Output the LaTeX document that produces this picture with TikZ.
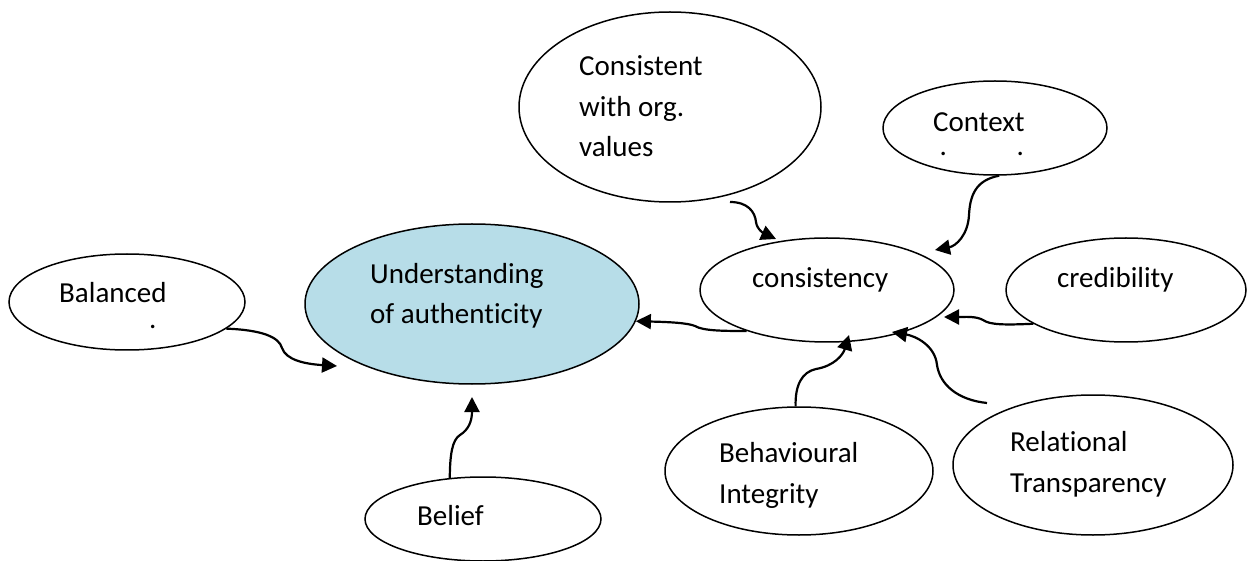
\documentclass[tikz,border=0pt]{standalone}
\usepackage{fontspec}
\setmainfont{Carlito}[Ligatures=NoCommon]
\usetikzlibrary{shapes.geometric,arrows.meta}
\definecolor{paleblue}{HTML}{B7DDE8}
\begin{document}
\begin{tikzpicture}[x=1pt,y=-1pt,>={Triangle[length=15pt,width=15pt]},
		bub/.style={ellipse,draw,line width=1.5pt,inner sep=0pt},
		lbl/.style={anchor=base west,inner sep=0pt,align=left,font={\fontsize{29}{40.5}\selectfont}},
		conn/.style={->,line width=2.2pt}]
		\useasboundingbox (0,0) rectangle (1248,561);
		% bubbles
		\node[bub,fill=paleblue,minimum width=334pt,minimum height=160pt] (under) at (472,304) {};
		\node[bub,minimum width=236pt,minimum height=96pt] (bal) at (127,302) {};
		\node[bub,minimum width=236pt,minimum height=84pt] (belief) at (483,519) {};
		\node[bub,minimum width=302pt,minimum height=190pt] (consv) at (670,107) {};
		\node[bub,minimum width=224pt,minimum height=94pt] (ctx) at (995,128) {};
		\node[bub,minimum width=254pt,minimum height=104pt] (cons) at (827,290) {};
		\node[bub,minimum width=240pt,minimum height=104pt] (cred) at (1126,290) {};
		\node[bub,minimum width=268pt,minimum height=128pt] (behav) at (799,471) {};
		\node[bub,minimum width=280pt,minimum height=140pt] (rel) at (1093,465) {};
		% texts (base = last line)
		\node[lbl] (under-t) at (370,324) {Understanding\\of authenticity};
		\node[lbl] (bal-t) at (59,303) {Balanced};
		\node[lbl] (bal-d) at (149,329) {.};
		\node[lbl] (belief-t) at (417,525) {Belief};
		\node[lbl] (consv-t) at (579,157) {Consistent\\with org.\\values};
		\node[lbl] (ctx-t) at (933,132) {Context};
		\node[lbl] (ctx-d) at (939.5,156) {.\hspace{69.7pt}.};
		\node[lbl] (cons-t) at (752,288) {consistency};
		\node[lbl] (cred-t) at (1057,288) {credibility};
		\node[lbl] (behav-t) at (719,503) {Behavioural\\Integrity};
		\node[lbl] (rel-t) at (1010,492) {Relational\\Transparency};
		% free ends
		\coordinate (bal-tip) at (337,366);
		\coordinate (belief-tip) at (472,397);
		\coordinate (consv-end) at (730,202);
		\coordinate (consv-tip) at (776,239);
		\coordinate (ctx-tip) at (935,250);
		\coordinate (cred-tip) at (944,317);
		\coordinate (behav-tip) at (849,335);
		\coordinate (rel-end) at (987,403);
		\coordinate (rel-tip) at (892,332);
		% connectors
		\draw[conn] (bal.-15) .. controls (262,330) and (279,337) .. (282,348)
			.. controls (286,360) and (305,364) .. (bal-tip);
		\draw[conn] (belief.129) .. controls (450,455) and (452,440) .. (460,435)
			.. controls (468,430) and (472,422) .. (belief-tip);
		\draw[conn] (cons.207) .. controls (725,331) and (703,331) .. (695,326)
			.. controls (688,323) and (670,322) .. (under.-6);
		\draw[conn] (consv-end) .. controls (748,202) and (755,212) .. (756,222)
			.. controls (757,230) and (765,234) .. (consv-tip);
		\draw[conn] (ctx.-85) .. controls (976,180) and (970,195) .. (969,215)
			.. controls (968,235) and (956,246) .. (ctx-tip);
		\draw[conn] (cred.200) .. controls (1005,325) and (990,325) .. (983,320)
			.. controls (976,316) and (965,317) .. (cred-tip);
		\draw[conn] (behav.93) .. controls (795,385) and (802,372) .. (816,369)
			.. controls (834,366) and (843,355) .. (behav-tip);
		\draw[conn] (rel-end) .. controls (958,400) and (940,385) .. (937,365)
			.. controls (935,345) and (915,336) .. (rel-tip);
\end{tikzpicture}
\end{document}
